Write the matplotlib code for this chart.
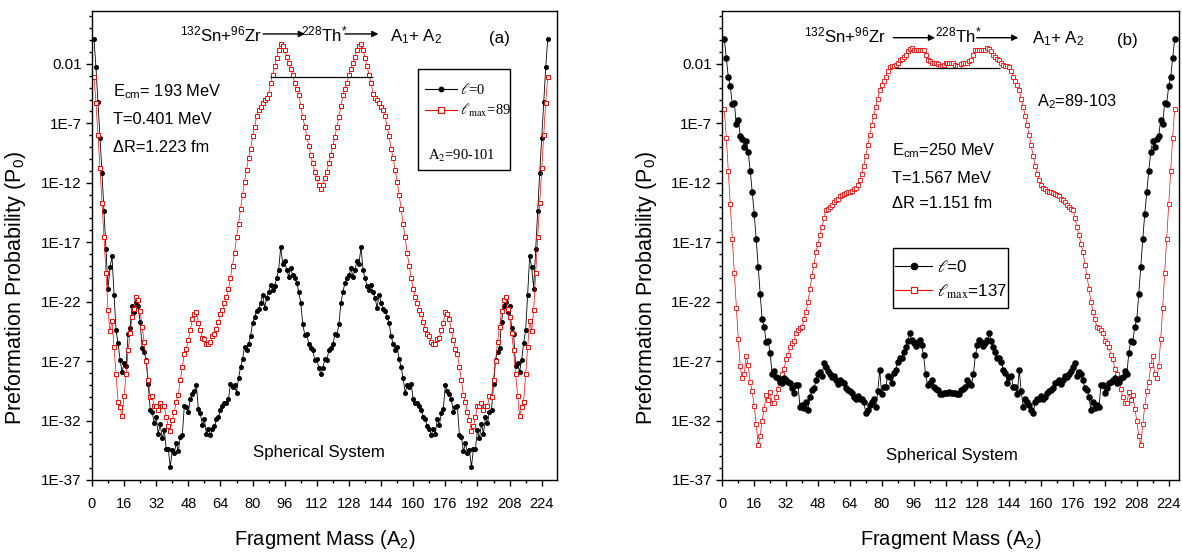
import matplotlib
matplotlib.use("Agg")
import matplotlib.pyplot as plt
import numpy as np
from matplotlib.font_manager import FontProperties
from matplotlib.lines import Line2D
from matplotlib.patches import Rectangle
from matplotlib.ticker import FixedLocator, FuncFormatter, MultipleLocator, NullFormatter

SANS = "Liberation Sans"
plt.rcParams["font.family"] = [SANS, "DejaVu Sans"]
plt.rcParams["mathtext.fontset"] = "custom"
plt.rcParams["mathtext.rm"] = SANS
plt.rcParams["mathtext.it"] = SANS + ":italic"
plt.rcParams["mathtext.bf"] = SANS + ":bold"
plt.rcParams["mathtext.sf"] = SANS

# fragment mass A2 = 1 ... 227 for 132Sn+96Zr -> 228Th*
mass = np.arange(1, 228)

# log10 P0, E_cm = 193 MeV, l = 0
logp_a_l0 = [
    0.1, -2.3, -5.2, -8.2, -11.2, -14.4, -17.6, -20.9, -19.1, -18.2,
    -21.4, -24.4, -25.5, -26.9, -27.9, -27.2, -27.4, -24.7, -24.2, -22.4,
    -22.9, -22.0, -22.4, -23.7, -25.9, -26.2, -26.9, -28.9, -31.1, -31.25,
    -32.2, -31.7, -33.1, -32.3, -33.5, -32.8, -34.4, -34.4, -35.9, -34.5,
    -34.7, -33.9, -34.6, -33.35, -33.2, -30.8, -30.9, -31.3, -30.2, -29.8,
    -29.5, -29.0, -31.05, -31.4, -32.4, -31.9, -33.1, -32.7, -33.2, -32.7,
    -32.5, -31.9, -31.7, -31.1, -30.8, -30.5, -30.55, -30.2, -28.9, -29.15,
    -29.0, -29.65, -28.45, -27.5, -26.85, -25.8, -26.1, -25.55, -24.9, -23.8,
    -23.3, -22.75, -22.6, -22.1, -21.4, -22.5, -21.7, -21.2, -20.6, -21.0,
    -20.7, -20.0, -19.3, -17.4, -18.8, -18.6, -19.3, -19.9, -19.2, -19.8,
    -20.0, -20.4, -21.2, -22.1, -23.9, -24.8, -24.7, -25.6, -25.9, -26.1,
    -26.9, -26.8, -27.6, -28.1,
    -27.6, -26.8, -26.9, -26.1, -25.9, -25.6, -24.7, -24.8, -23.9, -22.1,
    -21.2, -20.4, -20.0, -19.8, -19.2, -19.9, -19.3, -18.6, -18.8, -17.4,
    -19.3, -20.0, -20.7, -21.0, -20.6, -21.2, -21.7, -22.5, -21.4, -22.1,
    -22.6, -22.75, -23.3, -23.8, -24.9, -25.55, -26.1, -25.8, -26.85, -27.5,
    -28.45, -29.65, -29.0, -29.15, -28.9, -30.2, -30.55, -30.5, -30.8, -31.1,
    -31.7, -31.9, -32.5, -32.7, -33.2, -32.7, -33.1, -31.9, -32.4, -31.4,
    -31.05, -29.0, -29.5, -29.8, -30.2, -31.3, -30.9, -30.8, -33.2, -33.35,
    -34.6, -33.9, -34.7, -34.5, -35.9, -34.4, -34.4, -32.8, -33.5, -32.3,
    -33.1, -31.7, -32.2, -31.25, -31.1, -28.9, -26.9, -26.2, -25.9, -23.7,
    -22.4, -22.0, -22.9, -22.4, -24.2, -24.7, -27.4, -27.2, -27.9, -26.9,
    -25.5, -24.4, -21.4, -18.2, -19.1, -20.9, -17.6, -14.4, -11.2, -8.2,
    -5.2, -2.3, 0.1,
]

# log10 P0, E_cm = 193 MeV, l_max = 89
logp_a_lmax = [
    -3.1, -5.25, -8.0, -10.8, -13.7, -16.6, -19.6, -22.7, -24.5, -23.6,
    -25.8, -28.1, -30.4, -30.9, -31.6, -29.9, -28.1, -26.1, -24.6, -23.3,
    -22.6, -21.6, -21.9, -22.8, -24.1, -25.4, -27.0, -28.6, -30.0, -29.95,
    -30.8, -30.8, -31.1, -30.55, -30.8, -30.8, -31.7, -32.5, -32.85, -31.95,
    -31.3, -30.4, -29.85, -28.6, -27.5, -26.4, -25.95, -25.2, -24.4, -23.5,
    -23.0, -22.9, -23.8, -24.4, -25.05, -25.1, -25.6, -25.6, -25.4, -24.9,
    -24.7, -24.3, -23.7, -23.0, -22.7, -22.1, -21.6, -20.9, -20.0, -18.97,
    -17.9, -16.6, -15.5, -14.2, -13.0, -11.9, -10.9, -9.9, -9.15, -8.1,
    -7.3, -6.4, -5.9, -5.6, -5.3, -5.0, -4.9, -4.5, -3.6, -2.9,
    -2.2, -1.5, -0.8, -0.3, -0.46, -0.82, -1.38, -1.94, -2.42, -2.93,
    -3.63, -4.1, -4.61, -5.53, -6.49, -7.27, -8.11, -8.9, -9.66, -10.36,
    -11.06, -11.62, -12.2, -12.54,
    -12.2, -11.62, -11.06, -10.36, -9.66, -8.9, -8.11, -7.27, -6.49, -5.53,
    -4.61, -4.1, -3.63, -2.93, -2.42, -1.94, -1.38, -0.82, -0.46, -0.3,
    -0.8, -1.5, -2.2, -2.9, -3.6, -4.5, -4.9, -5.0, -5.3, -5.6,
    -5.9, -6.4, -7.3, -8.1, -9.15, -9.9, -10.9, -11.9, -13.0, -14.2,
    -15.5, -16.6, -17.9, -18.97, -20.0, -20.9, -21.6, -22.1, -22.7, -23.0,
    -23.7, -24.3, -24.7, -24.9, -25.4, -25.6, -25.6, -25.1, -25.05, -24.4,
    -23.8, -22.9, -23.0, -23.5, -24.4, -25.2, -25.95, -26.4, -27.5, -28.6,
    -29.85, -30.4, -31.3, -31.95, -32.85, -32.5, -31.7, -30.8, -30.8, -30.55,
    -31.1, -30.8, -30.8, -29.95, -30.0, -28.6, -27.0, -25.4, -24.1, -22.8,
    -21.9, -21.6, -22.6, -23.3, -24.6, -26.1, -28.1, -29.9, -31.6, -30.9,
    -30.4, -28.1, -25.8, -23.6, -24.5, -22.7, -19.6, -16.6, -13.7, -10.8,
    -8.0, -5.25, -3.1,
]

# log10 P0, E_cm = 250 MeV, l = 0
logp_b_l0 = [
    0.1, -1.5, -3.1, -3.85, -5.4, -5.25, -7.05, -6.7, -8.05, -8.35,
    -8.95, -8.45, -9.45, -11.0, -12.75, -14.6, -16.75, -19.05, -21.35, -23.5,
    -24.1, -25.4, -25.3, -26.3, -28.1, -27.8, -28.3, -28.45, -28.75, -28.85,
    -28.45, -28.55, -28.8, -28.85, -29.3, -29.65, -29.0, -29.05, -30.9, -30.7,
    -30.95, -30.4, -31.1, -30.0, -29.45, -29.3, -28.6, -28.1, -27.95, -28.25,
    -27.15, -27.5, -27.8, -28.1, -28.3, -28.25, -28.6, -28.9, -28.6, -28.75,
    -28.85, -29.3, -29.45, -29.55, -29.7, -30.0, -30.15, -29.95, -30.15, -30.2,
    -30.4, -31.4, -31.1, -30.7, -30.4, -30.15, -30.85, -29.55, -27.75, -29.8,
    -29.15, -29.2, -28.25, -28.35, -28.85, -28.0, -27.75, -27.05, -26.7, -26.75,
    -26.2, -25.8, -25.3, -24.65, -25.2, -25.5, -25.7, -25.4, -25.25, -25.65,
    -26.5, -28.1, -29.0, -28.85, -28.6, -29.2, -29.35, -29.45, -29.75, -29.75,
    -29.65, -29.7, -29.7, -29.6,
    -29.7, -29.7, -29.65, -29.75, -29.75, -29.45, -29.35, -29.2, -28.6, -28.85,
    -29.0, -28.1, -26.5, -25.65, -25.25, -25.4, -25.7, -25.5, -25.2, -24.65,
    -25.3, -25.8, -26.2, -26.75, -26.7, -27.05, -27.75, -28.0, -28.85, -28.35,
    -28.25, -29.2, -29.15, -29.8, -27.75, -29.55, -30.85, -30.15, -30.4, -30.7,
    -31.1, -31.4, -30.4, -30.2, -30.15, -29.95, -30.15, -30.0, -29.7, -29.55,
    -29.45, -29.3, -28.85, -28.75, -28.6, -28.9, -28.6, -28.25, -28.3, -28.1,
    -27.8, -27.5, -27.15, -28.25, -27.95, -28.1, -28.6, -29.3, -29.45, -30.0,
    -31.1, -30.4, -30.95, -30.7, -30.9, -29.05, -29.0, -29.65, -29.3, -28.85,
    -28.8, -28.55, -28.45, -28.85, -28.75, -28.45, -28.3, -27.8, -28.1, -26.3,
    -25.3, -25.4, -24.1, -23.5, -21.35, -19.05, -16.75, -14.6, -12.75, -11.0,
    -9.45, -8.45, -8.95, -8.35, -8.05, -6.7, -7.05, -5.25, -5.4, -3.85,
    -3.1, -1.5, 0.1,
]

# log10 P0, E_cm = 250 MeV, l_max = 137
logp_b_lmax = [
    -5.8, -8.2, -11.05, -13.8, -16.75, -19.55, -22.55, -25.15, -27.45, -28.45,
    -28.1, -26.55, -27.35, -28.75, -29.55, -30.75, -32.3, -34.05, -33.3, -32.0,
    -31.0, -29.85, -30.25, -29.6, -30.55, -30.5, -30.05, -29.35, -28.65, -28.05,
    -27.65, -26.85, -26.45, -25.85, -25.5, -25.3, -24.6, -24.4, -24.2, -24.15,
    -23.5, -22.85, -22.0, -20.9, -19.85, -18.9, -17.85, -17.15, -16.4, -15.75,
    -15.0, -14.3, -14.2, -14.05, -13.85, -13.65, -13.45, -13.35, -13.15, -13.0,
    -12.95, -12.9, -12.8, -12.75, -12.7, -12.55, -12.4, -12.2, -11.75, -11.25,
    -10.55, -9.75, -8.85, -7.95, -7.15, -6.35, -5.65, -4.95, -4.2, -3.75,
    -3.45, -3.1, -2.6, -2.25, -2.15, -2.2, -2.1, -1.95, -1.65, -1.55,
    -1.4, -1.25, -0.95, -0.75, -0.7, -0.8, -0.85, -0.85, -0.8, -0.85,
    -0.8, -1.25, -1.65, -1.8, -1.9, -1.95, -1.95, -2.0, -2.15, -2.2,
    -2.1, -1.95, -1.9, -1.9,
    -1.9, -1.95, -2.1, -2.2, -2.15, -2.0, -1.95, -1.95, -1.9, -1.8,
    -1.65, -1.25, -0.8, -0.85, -0.8, -0.85, -0.85, -0.8, -0.7, -0.75,
    -0.95, -1.25, -1.4, -1.55, -1.65, -1.95, -2.1, -2.2, -2.15, -2.25,
    -2.6, -3.1, -3.45, -3.75, -4.2, -4.95, -5.65, -6.35, -7.15, -7.95,
    -8.85, -9.75, -10.55, -11.25, -11.75, -12.2, -12.4, -12.55, -12.7, -12.75,
    -12.8, -12.9, -12.95, -13.0, -13.15, -13.35, -13.45, -13.65, -13.85, -14.05,
    -14.2, -14.3, -15.0, -15.75, -16.4, -17.15, -17.85, -18.9, -19.85, -20.9,
    -22.0, -22.85, -23.5, -24.15, -24.2, -24.4, -24.6, -25.3, -25.5, -25.85,
    -26.45, -26.85, -27.65, -28.05, -28.65, -29.35, -30.05, -30.5, -30.55, -29.6,
    -30.25, -29.85, -31.0, -32.0, -33.3, -34.05, -32.3, -30.75, -29.55, -28.75,
    -27.35, -26.55, -28.1, -28.45, -27.45, -25.15, -22.55, -19.55, -16.75, -13.8,
    -11.05, -8.2, -5.8,
]

# most probable fragment range marked by a horizontal bar: (A start, A end, log10 P0)
band_a = (88.6, 140.1, -3.12)
band_b = (86.7, 139.3, -2.34)


def ytick_label(v, pos):
    n = int(round(np.log10(v)))
    return "0.01" if n == -2 else f"1E{n}"


def style_axis(ax, xmax):
    ax.set_yscale("log")
    ax.set_xlim(0, xmax)
    ax.set_ylim(1e-37, 10 ** 2.45)
    ax.xaxis.set_major_locator(MultipleLocator(16))
    ax.xaxis.set_minor_locator(MultipleLocator(8))
    ax.yaxis.set_major_locator(FixedLocator(10.0 ** np.arange(-37, 3, 5)))
    ax.yaxis.set_minor_locator(FixedLocator(10.0 ** np.arange(-37, 3)))
    ax.yaxis.set_major_formatter(FuncFormatter(ytick_label))
    ax.yaxis.set_minor_formatter(NullFormatter())
    ax.tick_params(which="both", direction="out", top=False, right=False, width=1.0)
    ax.tick_params(which="major", length=4.5)
    ax.tick_params(which="minor", length=2.5)
    ax.tick_params(axis="y", labelsize=11, pad=3)
    ax.tick_params(axis="x", labelsize=10.5, pad=8)
    for s in ax.spines.values():
        s.set_linewidth(1.0)
    ax.set_xlabel("Fragment Mass (A$_2$)", fontsize=14.5)
    ax.set_ylabel("Preformation Probability (P$_0$)", fontsize=15.5)
    ax.xaxis.set_label_coords(0.501, -0.102)
    ax.yaxis.set_label_coords(-0.138, 0.41)


def reaction_line(ax, x_sn, x_th, x_a, x_tag, arrows, y_text, y_arrow, tag):
    fs = 12.2
    ax.text(x_sn, y_text, r"$^{132}$Sn+$^{96}$Zr", transform=ax.transAxes, fontsize=fs, va="baseline")
    ax.text(x_th, y_text, r"$^{228}$Th$^{*}$", transform=ax.transAxes, fontsize=fs, va="baseline")
    ax.text(x_a, y_text, r"A$_1$+ A$_2$", transform=ax.transAxes, fontsize=fs, va="baseline")
    ax.text(x_tag, y_text - 0.005, tag, transform=ax.transAxes, fontsize=fs, va="baseline")
    for x0, x1 in arrows:
        ax.annotate("", xy=(x1, y_arrow), xytext=(x0, y_arrow),
                    xycoords="axes fraction", textcoords="axes fraction",
                    arrowprops=dict(arrowstyle="-|>", color="black", lw=1.0,
                                    mutation_scale=9, shrinkA=0, shrinkB=0))


fig = plt.figure(figsize=(11.82, 5.54), dpi=100)
ax_a = fig.add_axes([0.0778, 0.1336, 0.3934, 0.8466])
ax_b = fig.add_axes([0.6111, 0.1336, 0.3864, 0.8466])

# ---- panel (a): E_cm = 193 MeV ----
ax_a.plot(mass, 10.0 ** np.array(logp_a_l0), color="black", lw=0.6,
          marker="o", ms=2.6, mfc="black", mec="black")
ax_a.plot(mass, 10.0 ** np.array(logp_a_lmax), color="red", lw=0.5,
          marker="s", ms=2.9, mfc="white", mec="red", mew=0.7)
ax_a.hlines(10.0 ** band_a[2], band_a[0], band_a[1], color="black", lw=0.9)
style_axis(ax_a, 231.6)

reaction_line(ax_a, 0.189, 0.449, 0.641, 0.854,
              [(0.368, 0.458), (0.544, 0.616)], 0.936, 0.951, "(a)")
fs_txt = 11.8
ax_a.text(0.046, 0.817, r"E$_{\rm cm}$= 193 MeV", transform=ax_a.transAxes, fontsize=fs_txt, va="baseline")
ax_a.text(0.046, 0.759, "T=0.401 MeV", transform=ax_a.transAxes, fontsize=fs_txt, va="baseline")
ax_a.text(0.046, 0.699, "\u0394R=1.223 fm", transform=ax_a.transAxes, fontsize=fs_txt, va="baseline")
ax_a.text(0.346, 0.05, "Spherical System", transform=ax_a.transAxes, fontsize=12.2, va="baseline")

leg_font_a = FontProperties(family="Liberation Serif", size=10.5, math_fontfamily="stix")
handles_a = [
    Line2D([], [], color="black", lw=0.8, marker="o", ms=3.2),
    Line2D([], [], color="red", lw=0.8, marker="s", ms=4.0, mfc="white", mec="red", mew=0.8),
]
ax_a.legend(handles_a, [r"$\ell$=0", r"$\ell_{\rm max}$=89"], loc="upper left",
            bbox_to_anchor=(0.716, 0.848), frameon=False, borderpad=0, borderaxespad=0,
            handlelength=2.2, handletextpad=0.2, labelspacing=0.35, prop=leg_font_a)
ax_a.add_patch(Rectangle((0.7011, 0.661), 0.1978, 0.2153, transform=ax_a.transAxes,
                         fill=False, ec="black", lw=1.0))
ax_a.text(0.723, 0.682, r"A$_2$=90-101", transform=ax_a.transAxes, va="baseline",
          fontproperties=FontProperties(family="Liberation Serif", size=10.5, math_fontfamily="stix"))

# ---- panel (b): E_cm = 250 MeV ----
ax_b.plot(mass, 10.0 ** np.array(logp_b_lmax), color="red", lw=0.5,
          marker="s", ms=2.3, mfc="white", mec="red", mew=0.6)
ax_b.plot(mass, 10.0 ** np.array(logp_b_l0), color="black", lw=0.6,
          marker="o", ms=3.7, mfc="black", mec="black")
ax_b.hlines(10.0 ** band_b[2], band_b[0], band_b[1], color="black", lw=0.9)
style_axis(ax_b, 229.2)

reaction_line(ax_b, 0.178, 0.466, 0.677, 0.864,
              [(0.3745, 0.4657), (0.557, 0.648)], 0.932, 0.943, "(b)")
ax_b.text(0.688, 0.796, r"A$_2$=89-103", transform=ax_b.transAxes, fontsize=fs_txt, va="baseline")
ax_b.text(0.371, 0.693, r"E$_{\rm cm}$=250 MeV", transform=ax_b.transAxes, fontsize=fs_txt, va="baseline")
ax_b.text(0.371, 0.634, "T=1.567 MeV", transform=ax_b.transAxes, fontsize=fs_txt, va="baseline")
ax_b.text(0.371, 0.579, "\u0394R =1.151 fm", transform=ax_b.transAxes, fontsize=fs_txt, va="baseline")
ax_b.text(0.358, 0.043, "Spherical System", transform=ax_b.transAxes, fontsize=12.2, va="baseline")

leg_font_b = FontProperties(family=SANS, size=12.2, math_fontfamily="stix")
handles_b = [
    Line2D([], [], color="black", lw=0.8, marker="o", ms=4.5),
    Line2D([], [], color="red", lw=0.8, marker="s", ms=4.0, mfc="white", mec="red", mew=0.8),
]
ax_b.legend(handles_b, [r"$\ell$=0", r"$\ell_{\rm max}$=137"], loc="upper left",
            bbox_to_anchor=(0.378, 0.472), frameon=False, borderpad=0, borderaxespad=0,
            handlelength=2.2, handletextpad=0.3, labelspacing=0.45, prop=leg_font_b)
ax_b.add_patch(Rectangle((0.3737, 0.3667), 0.2518, 0.128, transform=ax_b.transAxes,
                         fill=False, ec="black", lw=1.0))

fig.savefig("out.png", dpi=100)
